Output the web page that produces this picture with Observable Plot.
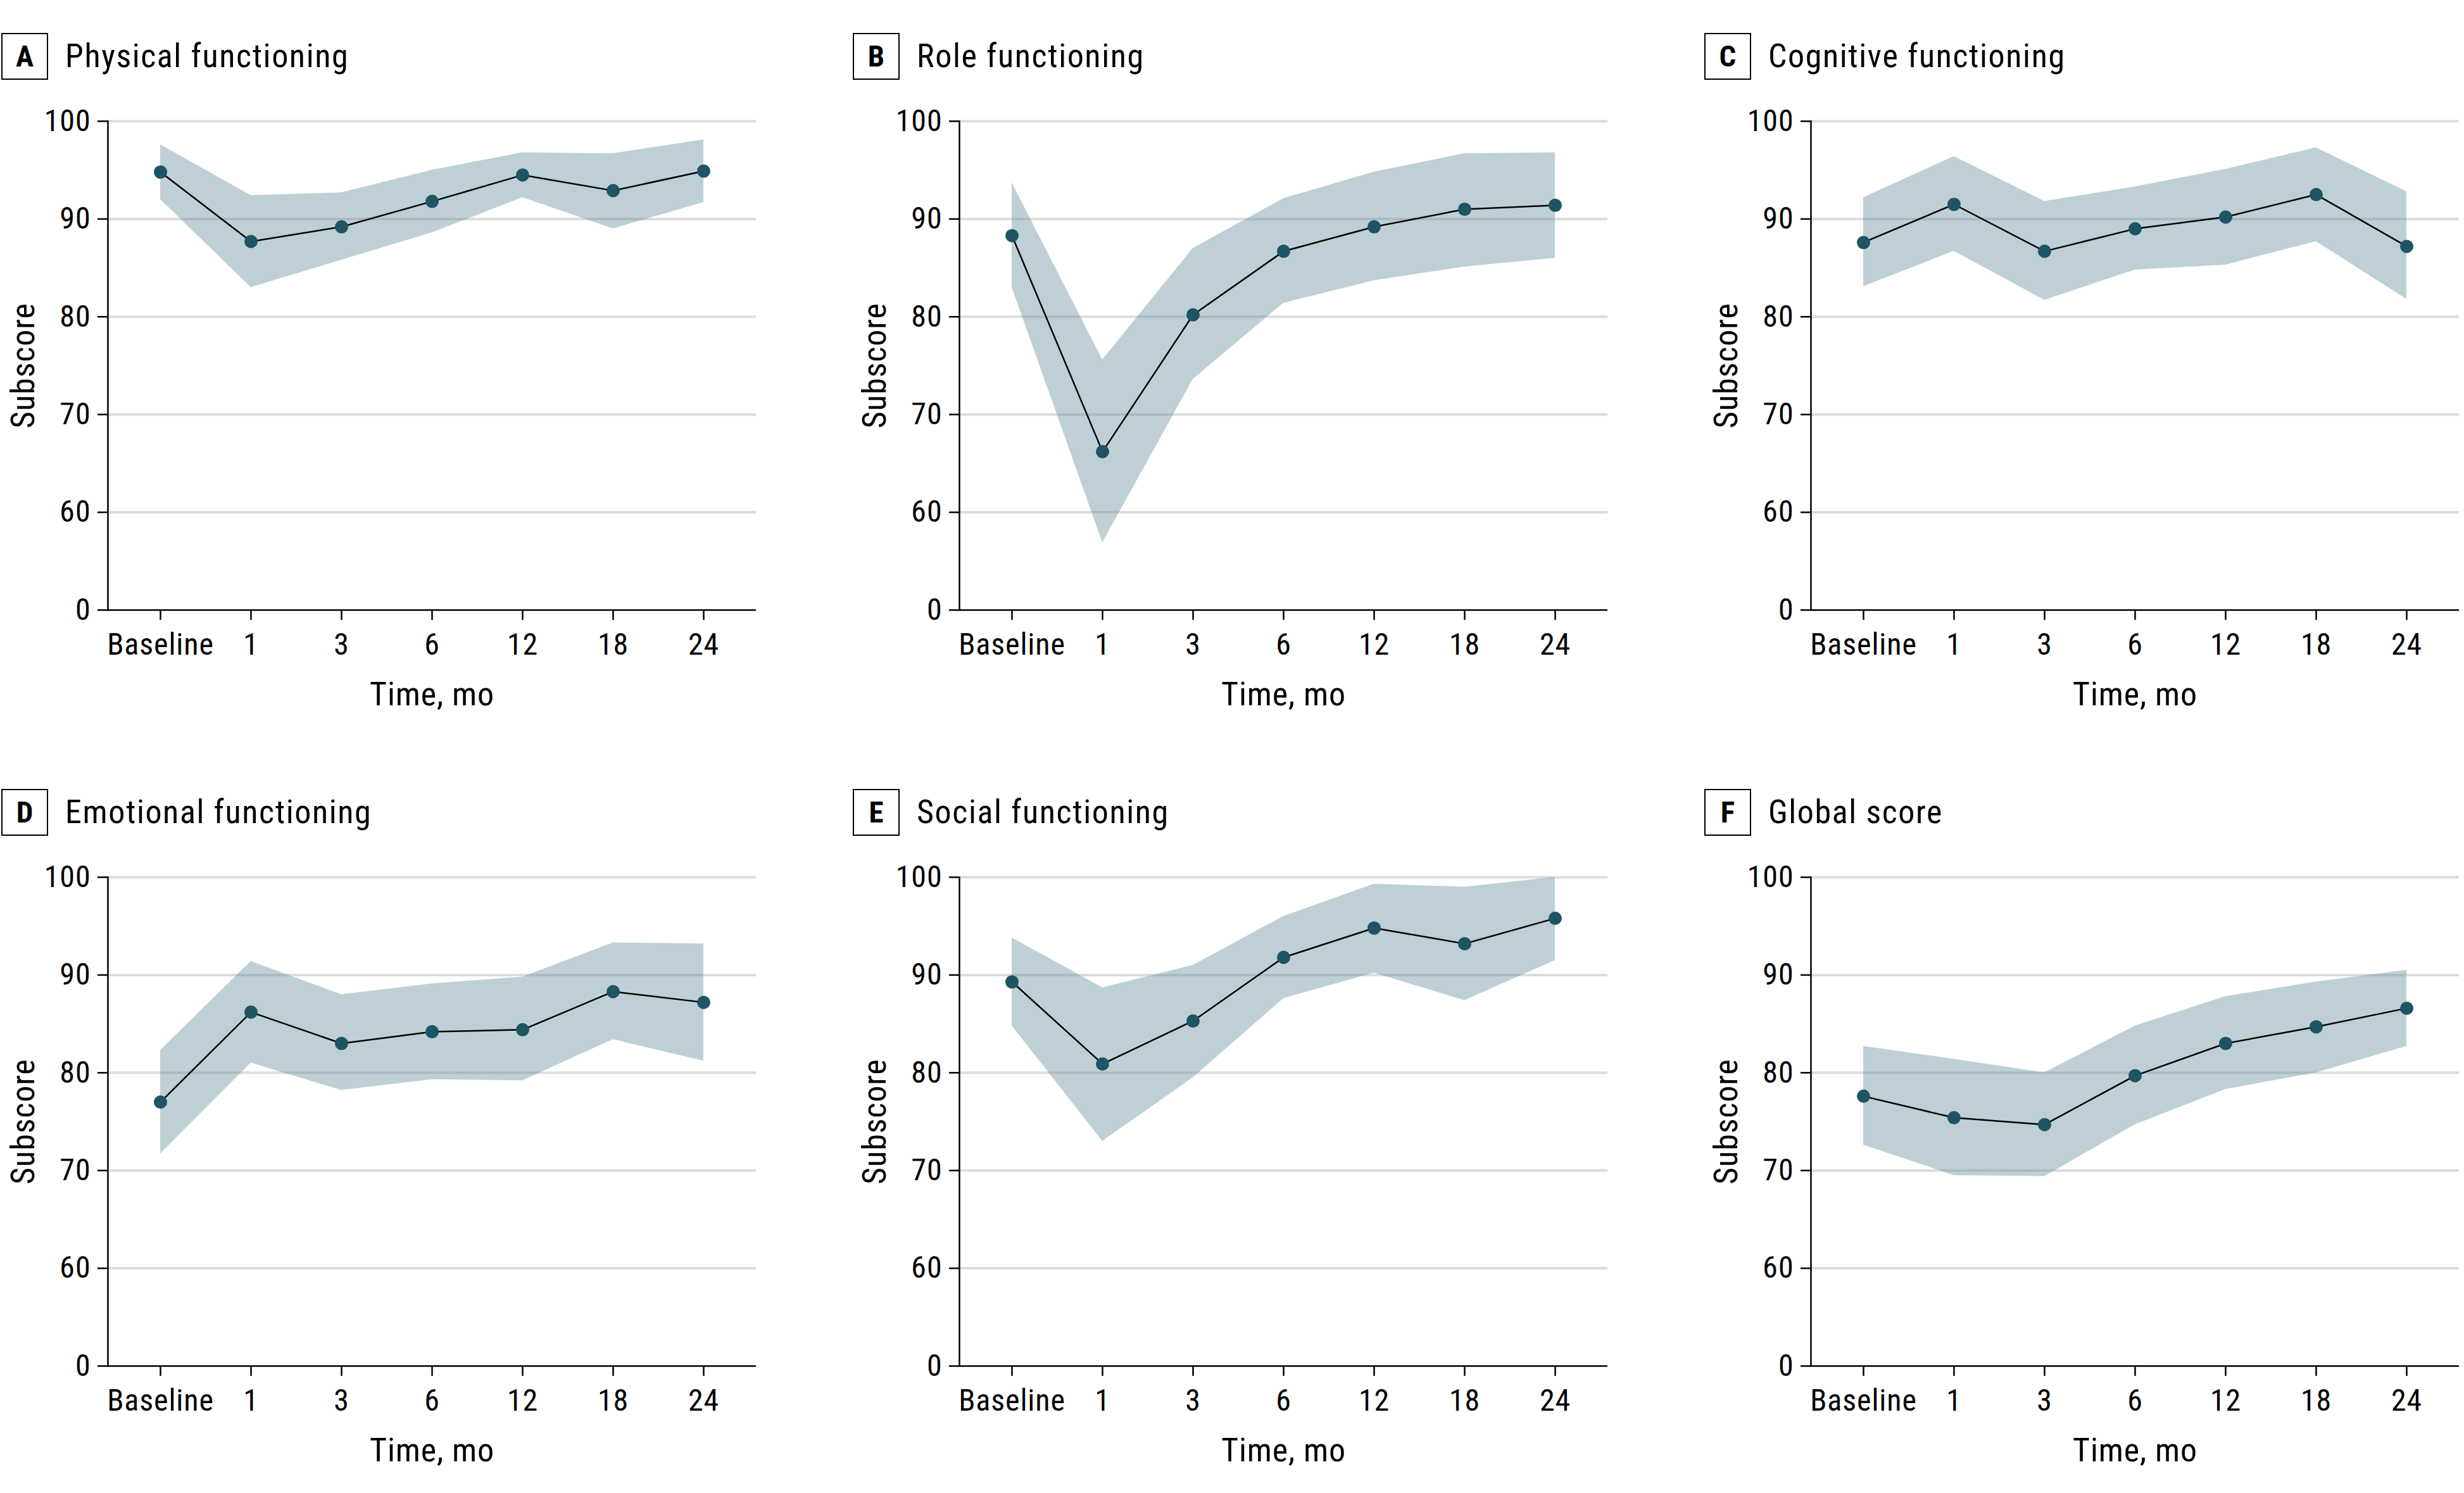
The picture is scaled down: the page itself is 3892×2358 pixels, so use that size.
<!DOCTYPE html>
<html>
<head>
<meta charset="utf-8">
<script src="https://cdn.jsdelivr.net/npm/d3@7"></script>
<script src="https://cdn.jsdelivr.net/npm/@observablehq/plot@0.6"></script>
<style>
  html, body { margin: 0; padding: 0; background: #fff; }
  body { width: 3892px; height: 2358px; position: relative; overflow: hidden;
         font-family: "Roboto Condensed", "Liberation Sans Narrow", "DejaVu Sans Condensed", "Liberation Sans", sans-serif; color: #000; }
  .panel { position: absolute; width: 1345px; height: 1194px; }
  .hdr { position: absolute; left: 2px; top: 52px; height: 73px; display: flex; align-items: center; }
  .box { width: 70px; height: 70px; border: 2.5px solid #000; display: flex; align-items: center; justify-content: center;
         font-weight: bold; font-size: 47px; line-height: 1; }
  .ttl { margin-left: 27px; font-size: 52px; letter-spacing: 1.6px; line-height: 1; }
  svg text { letter-spacing: 0.9px; }
</style>
</head>
<body>
<script>
// ---- data ----
const timepoints = ["Baseline", "1", "3", "6", "12", "18", "24"];
const panelLetters = ["A", "B", "C", "D", "E", "F"];
const panelTitles = ["Physical functioning", "Role functioning", "Cognitive functioning",
                     "Emotional functioning", "Social functioning", "Global score"];
const yTickValues = [0, 60, 70, 80, 90, 100];

const physicalMean  = [94.8, 87.7, 89.2, 91.8, 94.5, 92.9, 94.9];
const physicalLower = [92.0, 83.0, 85.8, 88.6, 92.2, 89.0, 91.7];
const physicalUpper = [97.6, 92.4, 92.7, 95.0, 96.8, 96.7, 98.1];

const roleMean  = [88.3, 66.2, 80.2, 86.7, 89.2, 91.0, 91.4];
const roleLower = [83.0, 56.9, 73.6, 81.4, 83.7, 85.1, 86.0];
const roleUpper = [93.7, 75.6, 87.0, 92.1, 94.8, 96.7, 96.8];

const cognitiveMean  = [87.6, 91.5, 86.7, 89.0, 90.2, 92.5, 87.2];
const cognitiveLower = [83.1, 86.7, 81.7, 84.8, 85.3, 87.7, 81.8];
const cognitiveUpper = [92.2, 96.4, 91.8, 93.3, 95.1, 97.3, 92.8];

const emotionalMean  = [77.0, 86.2, 83.0, 84.2, 84.4, 88.3, 87.2];
const emotionalLower = [71.7, 81.0, 78.2, 79.3, 79.2, 83.4, 81.2];
const emotionalUpper = [82.3, 91.4, 88.0, 89.1, 89.8, 93.3, 93.2];

const socialMean  = [89.3, 80.9, 85.3, 91.8, 94.8, 93.2, 95.8];
const socialLower = [84.8, 73.0, 79.5, 87.6, 90.2, 87.4, 91.5];
const socialUpper = [93.8, 88.7, 91.0, 96.0, 99.3, 99.0, 100.0];

const globalMean  = [77.6, 75.4, 74.7, 79.7, 83.0, 84.7, 86.6];
const globalLower = [72.6, 69.5, 69.4, 74.7, 78.3, 80.0, 82.7];
const globalUpper = [82.7, 81.4, 80.0, 84.8, 87.8, 89.3, 90.5];

const panelSeries = [
  [physicalMean, physicalLower, physicalUpper],
  [roleMean, roleLower, roleUpper],
  [cognitiveMean, cognitiveLower, cognitiveUpper],
  [emotionalMean, emotionalLower, emotionalUpper],
  [socialMean, socialLower, socialUpper],
  [globalMean, globalLower, globalUpper]
];

// ---- broken y axis: "0" sits one interval below 60 ----
const AXIS_BREAK = 50;
const yTicks = yTickValues.map(v => v === 0 ? AXIS_BREAK : v);
const fmtY = v => v === AXIS_BREAK ? "0" : String(v);

const FONT = '"Roboto Condensed", "Liberation Sans Narrow", "DejaVu Sans Condensed", "Liberation Sans", sans-serif';
const PITCH_X = 1345, PITCH_Y = 1194;

panelSeries.forEach(([mean, lower, upper], p) => {
  const rows = timepoints.map((t, i) => ({time: t, mean: mean[i], lo: lower[i], hi: upper[i]}));
  const col = p % 3, row = Math.floor(p / 3);

  const panel = document.createElement("div");
  panel.className = "panel";
  panel.style.left = (col * PITCH_X) + "px";
  panel.style.top = (row * PITCH_Y) + "px";

  const hdr = document.createElement("div");
  hdr.className = "hdr";
  const box = document.createElement("div");
  box.className = "box";
  box.textContent = panelLetters[p];
  const ttl = document.createElement("div");
  ttl.className = "ttl";
  ttl.textContent = panelTitles[p];
  hdr.append(box, ttl);
  panel.append(hdr);

  const chart = Plot.plot({
    width: 1200,
    height: 1003,
    marginLeft: 170,
    marginRight: 6,
    marginTop: 51,
    marginBottom: 180,
    style: {fontFamily: FONT, fontSize: "48px", color: "#000", background: "transparent", overflow: "visible"},
    x: {type: "point", domain: timepoints, padding: 0.58},
    y: {domain: [AXIS_BREAK, 100]},
    marks: [
      Plot.ruleY(yTicks.filter(v => v !== AXIS_BREAK), {stroke: "#dcdcdc", strokeWidth: 4}),
      Plot.areaY(rows, {x: "time", y1: "lo", y2: "hi", fill: "rgb(104,146,157)", fillOpacity: 0.43}),
      Plot.lineY(rows, {x: "time", y: "mean", stroke: "#000", strokeWidth: 2.5}),
      Plot.dot(rows, {x: "time", y: "mean", r: 10.5, fill: "#1e5464", stroke: "none"}),
      Plot.ruleY([AXIS_BREAK], {stroke: "#000", strokeWidth: 2.5}),
      Plot.frame({anchor: "left", stroke: "#000", strokeWidth: 2.5}),
      Plot.axisX({tickSize: 16, tickPadding: 20, strokeWidth: 2.5, fontSize: 48, label: null}),
      Plot.axisY({ticks: yTicks, tickFormat: fmtY, tickSize: 16, tickPadding: 11, strokeWidth: 2.5, fontSize: 48, label: null}),
      Plot.text(["Subscore"], {text: d => d, frameAnchor: "left", dx: -133, rotate: -90, textAnchor: "middle", lineAnchor: "middle", fontSize: 52, fill: "#000"}),
      Plot.text(["Time, mo"], {text: d => d, frameAnchor: "bottom", dy: 134, textAnchor: "middle", lineAnchor: "middle", fontSize: 52, fill: "#000"})
    ]
  });
  chart.style.position = "absolute";
  chart.style.left = "0px";
  chart.style.top = "140px";
  panel.append(chart);
  document.body.append(panel);
});
</script>
</body>
</html>
